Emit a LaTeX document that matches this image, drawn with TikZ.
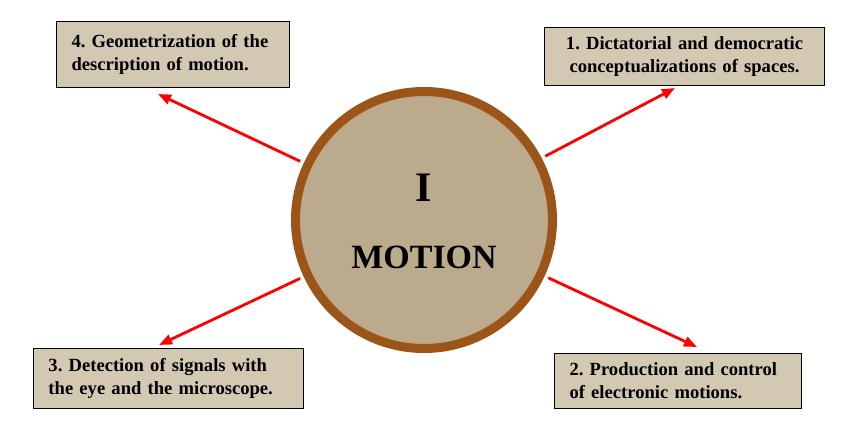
\documentclass[tikz,border=0pt]{standalone}
\usepackage{fontspec}
\setmainfont{Liberation Serif}
\frenchspacing
\usetikzlibrary{arrows.meta}
\definecolor{boxtan}{HTML}{D3C8B2}
\definecolor{hubtan}{HTML}{BCAA8C}
\definecolor{hubrim}{HTML}{9C5518}
\definecolor{rayred}{HTML}{FF0000}
\tikzset{
  tbox/.style={draw=black, fill=boxtan, line width=1.3pt, align=left, inner xsep=15pt, inner ysep=0pt,
    font=\fontsize{18.6}{23}\selectfont\bfseries},
  hub/.style={circle, draw=hubrim, fill=hubtan, line width=9pt, minimum size=257pt, inner sep=0pt},
  ray/.style={-{Triangle[length=13pt, width=10pt]}, draw=rayred, line width=2.8pt, shorten <=4pt}
}

\begin{document}
\begin{tikzpicture}[x=1pt, y=-1pt]
\useasboundingbox (0,0) rectangle (855,428);
\node[hub] (motion) at (424,220) {};
\node[font=\fontsize{42}{42}\selectfont\bfseries] (numeral) at ([yshift=32pt]motion.center) {I};
\node[font=\fontsize{34}{34}\selectfont\bfseries] (title) at ([yshift=-37pt]motion.center) {MOTION};
% the four topics
\node[tbox, text width=203pt, minimum height=66pt] (geom) at (173,54.5) {4. Geometrization of the\\description of motion.};
\node[tbox, text width=250pt, minimum height=58pt, align=center] (dict) at (684.5,56.5) {1. Dictatorial and democratic\\conceptualizations of spaces.};
\node[tbox, text width=240pt, minimum height=60pt] (detect) at (168.5,378.5) {3. Detection of signals with\\the eye and the microscope.};
\node[tbox, text width=217pt, minimum height=55pt] (prod) at (678,381) {2. Production and control\\of electronic motions.};
\coordinate (tipgeom) at (158,94);
\coordinate (tipdict) at (675,88);
\coordinate (tipdetect) at (159,345);
\coordinate (tipprod) at (697,347);
\draw[ray] (motion) -- (tipgeom);
\draw[ray] (motion) -- (tipdict);
\draw[ray] (motion) -- (tipdetect);
\draw[ray] (motion) -- (tipprod);
\end{tikzpicture}
\end{document}
